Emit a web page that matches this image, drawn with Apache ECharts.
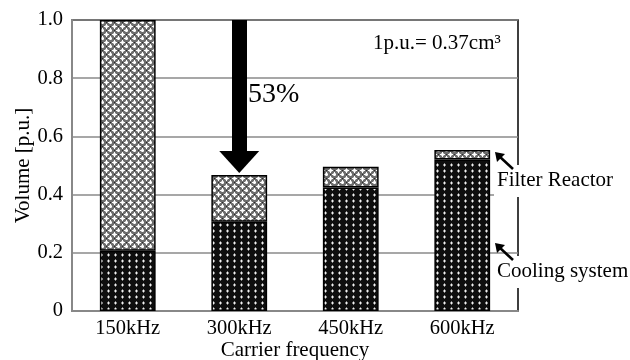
<!DOCTYPE html>
<html>
<head>
<meta charset="utf-8">
<script src="https://cdn.jsdelivr.net/npm/echarts@6/dist/echarts.min.js"></script>
<style>
html,body{margin:0;padding:0;background:#fff;}
#c{width:630px;height:360px;}
</style>
</head>
<body>
<div id="c"></div>
<script>
const categories = ['150kHz', '300kHz', '450kHz', '600kHz'];
const coolingSystem = [0.207, 0.307, 0.424, 0.521];
const filterReactor = [0.793, 0.160, 0.072, 0.032];
const yTicks = [0, 0.2, 0.4, 0.6, 0.8, 1.0];
const reductionFrom = 1.0;
// arrow head centre (tip sits just above the 300kHz bar, about 0.47)
const reductionHeadCentre = 0.512;
const reductionLabel = '53%';
const unitNote = '1p.u.= 0.37cm³';

const FONT = 'Liberation Serif';

function makeFilterTile() {
  const c = document.createElement('canvas');
  c.width = 8; c.height = 8;
  const g = c.getContext('2d');
  g.fillStyle = '#6e6e6e'; g.fillRect(0, 0, 8, 8);
  [[2,2],[6,6]].forEach(([x,y]) => {
    g.fillStyle = '#c8c8c8';
    g.fillRect(x-1, y-1, 3, 3);
    g.fillStyle = '#ffffff';
    g.fillRect(x-2, y, 5, 1);
    g.fillRect(x, y-2, 1, 5);
  });
  g.fillStyle = '#2a2a2a';
  g.fillRect(6, 2, 1, 1); g.fillRect(2, 6, 1, 1);
  return c;
}
function makeCoolingTile() {
  const c = document.createElement('canvas');
  c.width = 7; c.height = 6;
  const g = c.getContext('2d');
  g.fillStyle = '#0e0e0e'; g.fillRect(0, 0, 7, 6);
  g.fillStyle = '#808080';
  g.fillRect(2, 2, 3, 2);
  g.fillRect(3, 1, 1, 4);
  g.fillStyle = '#f2f2f2';
  g.fillRect(3, 2, 1, 2);
  return c;
}

const chart = echarts.init(document.getElementById('c'), null, {renderer: 'canvas'});

const option = {
  animation: false,
  backgroundColor: '#ffffff',
  grid: {
    left: 72, right: 112, top: 20, bottom: 49,
    outerBoundsMode: 'none',
    containLabel: false,
    show: true, borderColor: '#000', borderWidth: 1.5
  },
  xAxis: {
    type: 'category',
    data: categories,
    name: 'Carrier frequency',
    nameLocation: 'middle',
    nameGap: 29,
    nameMoveOverlap: false,
    nameTextStyle: {fontFamily: FONT, fontSize: 21, color: '#000'},
    axisLine: {lineStyle: {color: '#888', width: 2}},
    axisTick: {show: false},
    axisLabel: {fontFamily: FONT, fontSize: 20.5, color: '#000', margin: 7}
  },
  yAxis: {
    type: 'value',
    min: yTicks[0], max: yTicks[yTicks.length - 1], interval: 0.2,
    name: 'Volume [p.u.]',
    nameLocation: 'middle',
    nameGap: 38,
    nameMoveOverlap: false,
    nameTextStyle: {fontFamily: FONT, fontSize: 21, color: '#000'},
    axisLine: {show: true, lineStyle: {color: '#888', width: 2}},
    axisTick: {show: false},
    splitLine: {lineStyle: {color: '#8a8a8a', width: 1.5}},
    axisLabel: {
      fontFamily: FONT, fontSize: 20.5, color: '#000', margin: 9,
      formatter: v => v === 0 ? '0' : v.toFixed(1)
    }
  },
  series: [
    {
      name: 'Cooling system', type: 'bar', stack: 'v',
      data: coolingSystem, barWidth: '50%',
      itemStyle: {color: {image: makeCoolingTile(), repeat: 'repeat'}, borderColor: '#000', borderWidth: 1.5}
    },
    {
      name: 'Filter Reactor', type: 'bar', stack: 'v',
      data: filterReactor, barWidth: '50%',
      itemStyle: {color: {image: makeFilterTile(), repeat: 'repeat'}, borderColor: '#000', borderWidth: 1.5},
      markLine: {
        silent: true,
        symbol: ['none', 'triangle'],
        symbolSize: [40, 22],
        z: 10,
        lineStyle: {color: '#000', width: 15, type: 'solid', opacity: 1},
        itemStyle: {color: '#000'},
        label: {show: false},
        data: [[
          {coord: [categories[1], reductionFrom]},
          {coord: [categories[1], reductionHeadCentre]}
        ]]
      }
    }
  ],
  graphic: [
    {type: 'text', z: 20, style: {text: reductionLabel, x: 248, y: 95, verticalAlign: 'middle', font: '28px "Liberation Serif"', fill: '#000'}},
    {type: 'text', z: 20, style: {text: unitNote, x: 373, y: 43, verticalAlign: 'middle', font: '21px "Liberation Serif"', fill: '#000'}},
    {type: 'rect', z: 15, shape: {x: 494, y: 165, width: 136, height: 32}, style: {fill: '#fff'}},
    {type: 'rect', z: 15, shape: {x: 494, y: 256, width: 136, height: 32}, style: {fill: '#fff'}},
    {type: 'text', z: 20, style: {text: 'Filter Reactor', x: 497, y: 180, verticalAlign: 'middle', font: '21px "Liberation Serif"', fill: '#000'}},
    {type: 'text', z: 20, style: {text: 'Cooling system', x: 497, y: 271, verticalAlign: 'middle', font: '21px "Liberation Serif"', fill: '#000'}},
    {type: 'line', z: 20, shape: {x1: 499, y1: 156, x2: 513, y2: 169}, style: {stroke: '#000', lineWidth: 2.5}},
    {type: 'polygon', z: 20, shape: {points: [[495, 152], [505, 154], [497, 162]]}, style: {fill: '#000'}},
    {type: 'line', z: 20, shape: {x1: 499, y1: 247, x2: 513, y2: 260}, style: {stroke: '#000', lineWidth: 2.5}},
    {type: 'polygon', z: 20, shape: {points: [[495, 243], [505, 245], [497, 253]]}, style: {fill: '#000'}}
  ]
};
chart.setOption(option);
</script>
</body>
</html>
